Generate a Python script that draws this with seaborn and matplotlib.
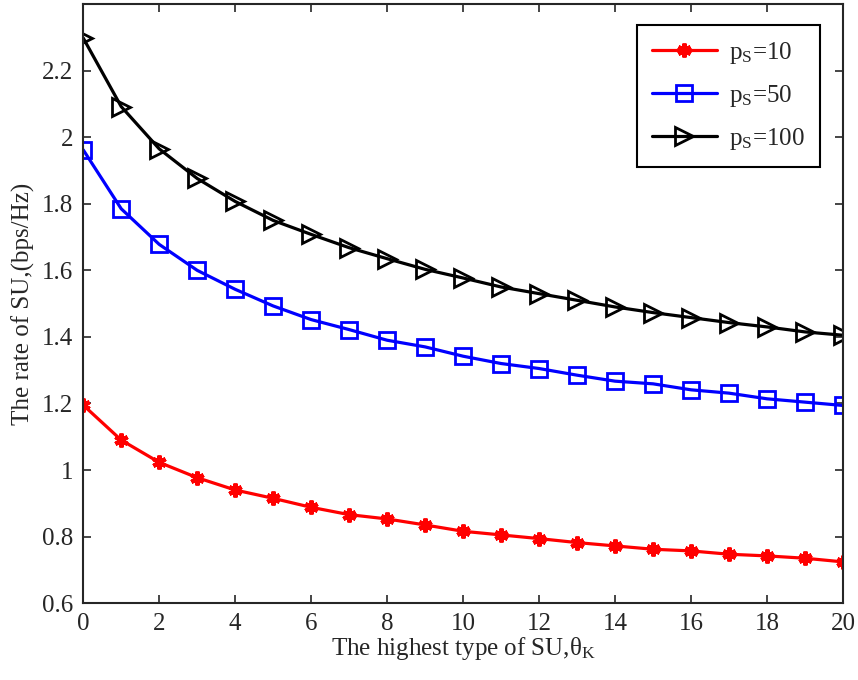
import pandas as pd
import matplotlib
matplotlib.use('Agg')
import matplotlib.pyplot as plt
import seaborn as sns

sns.set_style('ticks')
plt.rcParams['font.family'] = ['Liberation Serif', 'DejaVu Serif']
plt.rcParams['mathtext.fontset'] = 'custom'
plt.rcParams['mathtext.rm'] = 'Liberation Serif'
plt.rcParams['mathtext.it'] = 'Liberation Serif:italic'
plt.rcParams['font.size'] = 18

# values
theta_k = list(range(0, 21))
rate_ps10 = [1.195, 1.090, 1.023, 0.977, 0.940, 0.915, 0.888, 0.866, 0.853, 0.835, 0.816,
             0.805, 0.794, 0.782, 0.772, 0.762, 0.757, 0.747, 0.742, 0.735, 0.724]
rate_ps50 = [1.962, 1.785, 1.678, 1.600, 1.543, 1.493, 1.452, 1.422, 1.390, 1.370, 1.342,
             1.320, 1.305, 1.285, 1.267, 1.259, 1.241, 1.231, 1.214, 1.204, 1.194]
rate_ps100 = [2.298, 2.092, 1.965, 1.876, 1.807, 1.750, 1.708, 1.668, 1.635, 1.603, 1.577,
              1.550, 1.530, 1.510, 1.490, 1.473, 1.458, 1.443, 1.430, 1.415, 1.405]
labels = ['p$_{\\mathrm{S}}$=10', 'p$_{\\mathrm{S}}$=50', 'p$_{\\mathrm{S}}$=100']

df = pd.DataFrame({'theta': theta_k, 'ps10': rate_ps10, 'ps50': rate_ps50, 'ps100': rate_ps100})

fig, ax = plt.subplots(figsize=(8.58, 6.8), dpi=100)
fig.subplots_adjust(left=0.097, right=0.9825, top=0.994, bottom=0.113)

sns.lineplot(data=df, x='theta', y='ps10', ax=ax, color='red', lw=2.3,
             marker=(6, 2, 0), markersize=10, markeredgewidth=3, markeredgecolor='red',
             label=labels[0])
sns.lineplot(data=df, x='theta', y='ps50', ax=ax, color='blue', lw=2.3,
             marker='s', markersize=11, markeredgewidth=2, markerfacecolor='none',
             markeredgecolor='blue', label=labels[1])
sns.lineplot(data=df, x='theta', y='ps100', ax=ax, color='black', lw=2.3,
             marker='>', markersize=13, markeredgewidth=2, markerfacecolor='none',
             markeredgecolor='black', label=labels[2])

ax.set_xlim(0, 20)
ax.set_ylim(0.6, 2.4)
ax.set_xticks(range(0, 21, 2))
ax.set_yticks([0.6, 0.8, 1.0, 1.2, 1.4, 1.6, 1.8, 2.0, 2.2])
ax.set_yticklabels(['0.6', '0.8', '1', '1.2', '1.4', '1.6', '1.8', '2', '2.2'])
ax.tick_params(direction='in', top=True, right=True, length=6, width=1.2, pad=7)
for s in ax.spines.values():
    s.set_linewidth(1.5)
    s.set_visible(True)

ax.set_xlabel('The highest type of SU,\u03b8$_{\\mathrm{K}}$', labelpad=0)
ax.set_ylabel('The rate of SU,(bps/Hz)', labelpad=5)

leg = ax.legend(loc='upper right', bbox_to_anchor=(0.970, 0.965), borderaxespad=0,
                fancybox=False, edgecolor='black', framealpha=1, handlelength=2.6,
                borderpad=0.6, labelspacing=0.68, handletextpad=0.5, fontsize=18)
leg.get_frame().set_linewidth(1.5)

plt.savefig('out.png', dpi=100)
plt.close()
